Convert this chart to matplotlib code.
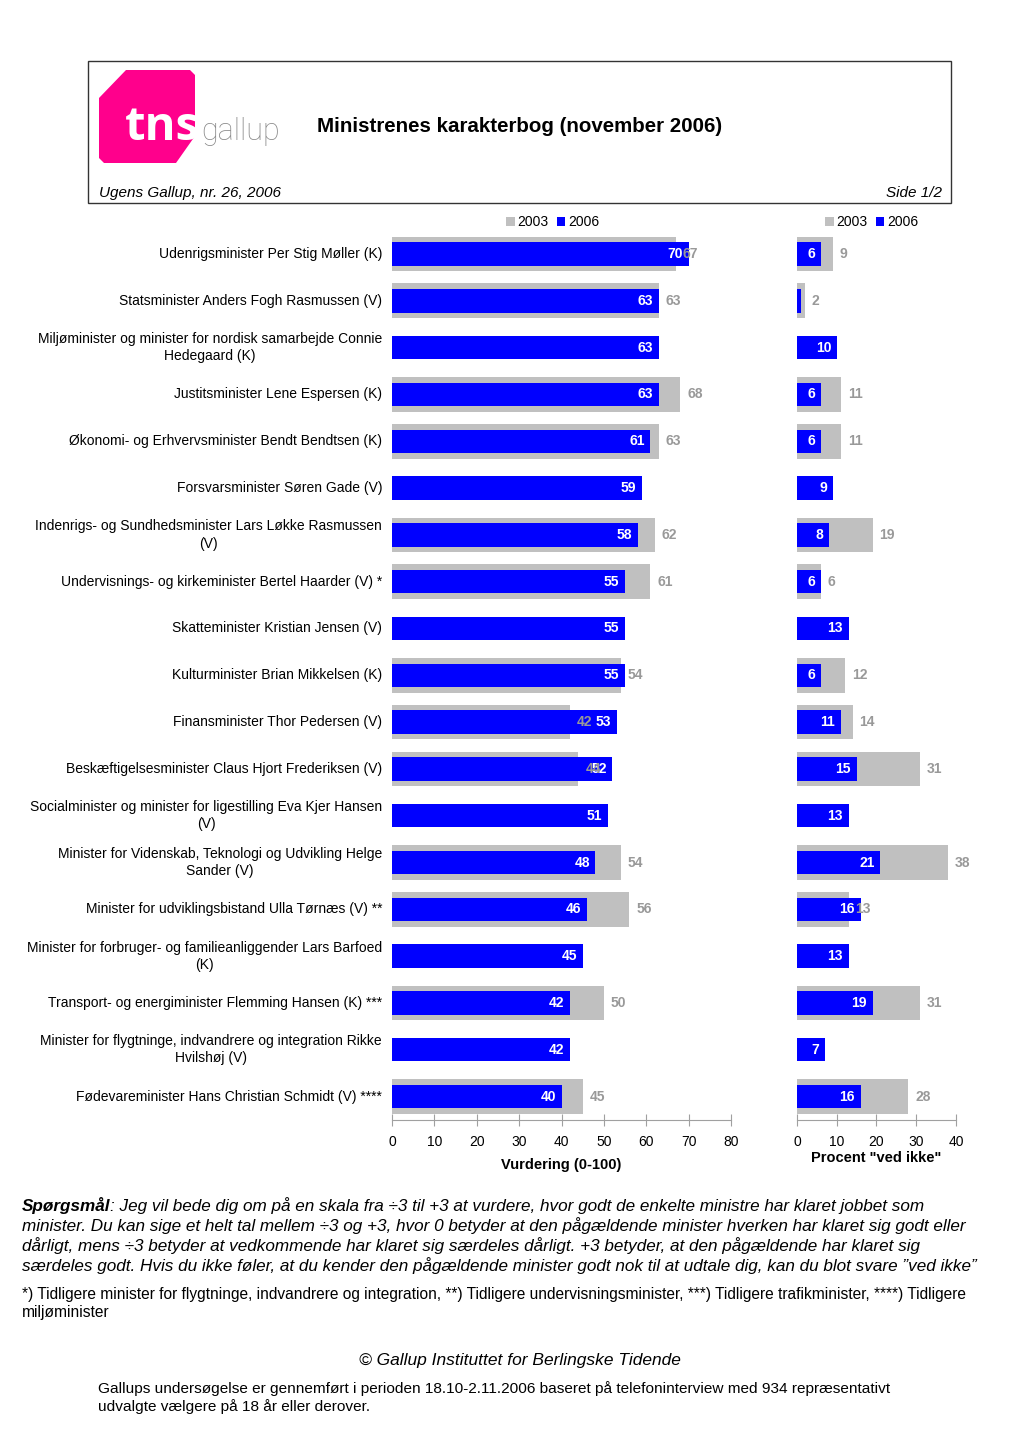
import numpy as np
import matplotlib.pyplot as plt
from matplotlib.patches import Rectangle, Polygon

plt.rcParams['font.family'] = ['Liberation Sans', 'DejaVu Sans']

# Data
ministre = [
    "Udenrigsminister Per Stig Møller (K)",
    "Statsminister Anders Fogh Rasmussen (V)",
    "Miljøminister og minister for nordisk samarbejde Connie\nHedegaard (K)",
    "Justitsminister Lene Espersen (K)",
    "Økonomi- og Erhvervsminister Bendt Bendtsen (K)",
    "Forsvarsminister Søren Gade (V)",
    "Indenrigs- og Sundhedsminister Lars Løkke Rasmussen\n(V)",
    "Undervisnings- og kirkeminister Bertel Haarder (V) *",
    "Skatteminister Kristian Jensen (V)",
    "Kulturminister Brian Mikkelsen (K)",
    "Finansminister Thor Pedersen (V)",
    "Beskæftigelsesminister Claus Hjort Frederiksen (V)",
    "Socialminister og minister for ligestilling Eva Kjer Hansen\n(V)",
    "Minister for Videnskab, Teknologi og Udvikling Helge\nSander (V)",
    "Minister for udviklingsbistand Ulla Tørnæs (V) **",
    "Minister for forbruger- og familieanliggender Lars Barfoed\n(K)",
    "Transport- og energiminister Flemming Hansen (K) ***",
    "Minister for flygtninge, indvandrere og integration Rikke\nHvilshøj (V)",
    "Fødevareminister Hans Christian Schmidt (V) ****",
]
vurdering_2006 = [70, 63, 63, 63, 61, 59, 58, 55, 55, 55, 53, 52, 51, 48, 46, 45, 42, 42, 40]
vurdering_2003 = [67, 63, None, 68, 63, None, 62, 61, None, 54, 42, 44, None, 54, 56, None, 50, None, 45]
vedikke_2006 = [6, 1, 10, 6, 6, 9, 8, 6, 13, 6, 11, 15, 13, 21, 16, 13, 19, 7, 16]
vedikke_2003 = [9, 2, None, 11, 11, None, 19, 6, None, 12, 14, 31, None, 38, 13, None, 31, None, 28]

BLUE = '#0000FF'
GRAY = '#C0C0C0'
LBLGRAY = '#999999'

W, H = 1020, 1443
fig = plt.figure(figsize=(W / 100, H / 100), dpi=100)


def fx(x):
    return x / W


def fy(y):
    return 1 - y / H


# header box
fig.patches.append(Rectangle((fx(88), fy(203)), fx(951) - fx(88), fy(61) - fy(203),
                             transform=fig.transFigure, fill=False, ec='#333333', lw=1))
logo = [(99, 98), (126, 70), (190, 70), (195, 75), (195, 136), (176, 163),
        (104, 163), (99, 158)]
fig.patches.append(Polygon([(fx(a), fy(b)) for a, b in logo], closed=True,
                           transform=fig.transFigure, fc='#FF008C', ec='none'))
fig.text(fx(125), fy(140), "tns", color='white', fontsize=34, fontweight='bold',
         family='Open Sans', va='baseline')
fig.text(fx(201), fy(140), "gallup", color='#8A8A8A', fontsize=22,
         family='Roboto', fontweight='light', va='baseline')
fig.text(fx(317), fy(126), "Ministrenes karakterbog (november 2006)", fontsize=14.8,
         fontweight='bold', va='center')
fig.text(fx(99), fy(193), "Ugens Gallup, nr. 26, 2006", fontsize=11, style='italic', va='center')
fig.text(fx(942), fy(193), "Side 1/2", fontsize=11, style='italic', va='center', ha='right')

n = len(ministre)
y = np.arange(n)
bottom = fy(1120)
height = fy(230.6) - bottom

ax1 = fig.add_axes([fx(392), bottom, fx(731) - fx(392), height])
ax2 = fig.add_axes([fx(797), bottom, fx(956) - fx(797), height])


def panel(ax, v06, v03, xmax, step, legx):
    v03n = [np.nan if v is None else v for v in v03]
    ax.barh(y, v03n, height=0.74, color=GRAY, label='2003')
    ax.barh(y, v06, height=0.5, color=BLUE, label='2006')
    for i in range(n):
        ax.annotate(str(v06[i]), (v06[i], i), xytext=(-4, 0), textcoords='offset points',
                    ha='right', va='center', color='white', fontweight='bold', fontsize=10)
        if v03[i] is not None:
            ax.annotate(str(v03[i]), (v03[i], i), xytext=(5, 0), textcoords='offset points',
                        ha='left', va='center', color=LBLGRAY, fontweight='bold', fontsize=10)
    ax.set_xlim(0, xmax)
    ax.set_ylim(n - 0.5, -0.5)
    ax.set_xticks(np.arange(0, xmax + 1, step))
    for s in ['top', 'right', 'left']:
        ax.spines[s].set_visible(False)
    ax.spines['bottom'].set_color('#A0A0A0')
    ax.tick_params(axis='x', direction='inout', length=8, color='#A0A0A0',
                   labelsize=10, pad=7)
    ax.tick_params(axis='y', left=False, labelleft=False)
    ax.legend(loc='lower center', bbox_to_anchor=(legx, 0.995), ncol=2, frameon=False,
              fontsize=10, handlelength=0.6, handleheight=0.6, handletextpad=0.2,
              columnspacing=0.6, borderaxespad=0.0)


panel(ax1, vurdering_2006, vurdering_2003, 80, 10, 0.474)
panel(ax2, vedikke_2006, vedikke_2003, 40, 10, 0.47)

ax1.set_yticks(y)
for i, lbl in enumerate(ministre):
    ax1.text(-10 / 4.24, i, lbl, ha='right', va='center', multialignment='center',
             fontsize=10, linespacing=1.3)

ax1.set_xlabel("Vurdering (0-100)", fontsize=10.5, fontweight='bold', labelpad=6)
ax2.set_xlabel('Procent "ved ikke"', fontsize=10.5, fontweight='bold', labelpad=1)

# bottom text
r = fig.canvas.get_renderer()
t = fig.text(fx(22), fy(1206), "Spørgsmål", fontsize=12.3, fontweight='bold', style='italic',
             va='center')
bb = t.get_window_extent(renderer=r)
fig.text(bb.x1 / W, fy(1206), ": Jeg vil bede dig om på en skala fra ÷3 til +3 at vurdere, "
         "hvor godt de enkelte ministre har klaret jobbet som", fontsize=12.3, style='italic',
         va='center')
rest = [
    "minister. Du kan sige et helt tal mellem ÷3 og +3, hvor 0 betyder at den pågældende "
    "minister hverken har klaret sig godt eller",
    "dårligt, mens ÷3 betyder at vedkommende har klaret sig særdeles dårligt. +3 betyder, "
    "at den pågældende har klaret sig",
    "særdeles godt. Hvis du ikke føler, at du kender den pågældende minister godt nok til at "
    "udtale dig, kan du blot svare ”ved ikke”",
]
for k, line in enumerate(rest):
    fig.text(fx(22), fy(1226 + 19.7 * k), line, fontsize=12.3, style='italic', va='center')

fig.text(fx(22), fy(1294), "*) Tidligere minister for flygtninge, indvandrere og integration, "
         "**) Tidligere undervisningsminister, ***) Tidligere trafikminister, ****) Tidligere",
         fontsize=11.2, va='center')
fig.text(fx(22), fy(1312), "miljøminister", fontsize=11.2, va='center')

fig.text(fx(520), fy(1360), "© Gallup Instituttet for Berlingske Tidende", fontsize=12.5,
         style='italic', ha='center', va='center')
fig.text(fx(98), fy(1389), "Gallups undersøgelse er gennemført i perioden 18.10-2.11.2006 "
         "baseret på telefoninterview med 934 repræsentativt", fontsize=11.1, va='center')
fig.text(fx(98), fy(1407), "udvalgte vælgere på 18 år eller derover.", fontsize=11.1, va='center')

fig.savefig("out.png", dpi=100)
